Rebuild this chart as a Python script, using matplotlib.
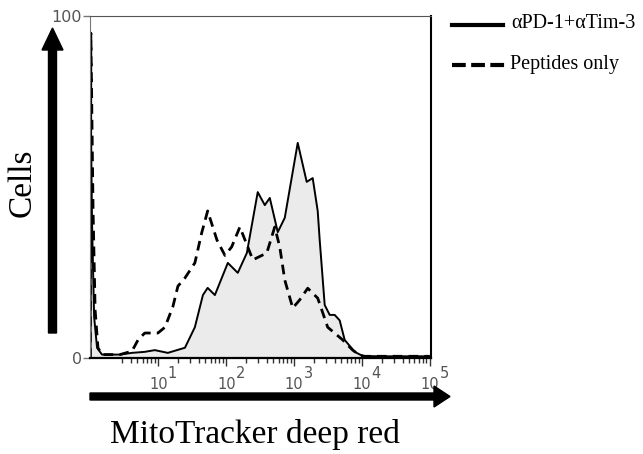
import matplotlib
matplotlib.use("Agg")
import matplotlib.pyplot as plt
from matplotlib.patches import FancyArrow
from matplotlib.lines import Line2D
from matplotlib.ticker import FixedLocator, NullFormatter
from matplotlib.transforms import blended_transform_factory, offset_copy

# MitoTracker deep red intensity (log axis) and % of max cells
treated_x = [1.0, 1.02, 1.03, 1.07, 1.15, 1.27, 1.5, 2.76, 4.15, 6.4, 9.0, 14, 25, 35, 46,
             54, 69, 107, 150, 204, 295, 375, 444, 582, 738, 1145, 1552, 1902, 2254,
             2411, 2857, 3383, 4008, 4747, 5623, 7890, 10350, 18400, 100000]
treated_y = [0, 0, 70, 40, 12, 3, 1, 1, 1.5, 1.8, 2.3, 1.5, 3, 9, 18.4,
             20.5, 18.4, 27.8, 24.9, 30.7, 48.5, 44.7, 46.8, 36.8, 41, 62.9, 51.5, 52.6, 43,
             34.5, 15.5, 12.6, 12.6, 11, 5.3, 1.8, 0.6, 0.5, 0.5]

peptide_x = [1.01, 1.03, 1.11, 1.19, 1.31, 1.5, 2.76, 4.15, 5.1, 6.4, 10, 12.7, 16.6, 19.7,
             25, 35, 44, 54, 74, 97, 122, 161, 250, 401, 525, 622, 738, 967, 1225, 1607,
             2254, 3162, 5250, 7380, 9340, 11000, 100000]
peptide_y = [0, 95, 43, 14, 3, 1, 1, 2, 5.3, 7.3, 7.3, 9, 15, 21,
             23.4, 27.8, 36.5, 43, 34.5, 30, 32.5, 38.3, 28.7, 30.7, 38.3, 32.5, 22.8, 14.6, 17, 20.4,
             17.5, 9, 5.3, 2.3, 0.9, 0.5, 0.5]

labels = ["\u03b1PD-1+\u03b1Tim-3", "Peptides only"]
decades = [10, 100, 1000, 10000, 100000]
exponents = ["1", "2", "3", "4", "5"]

fig = plt.figure(figsize=(6.43, 4.54), dpi=100)
ax = fig.add_axes([90 / 643, 96 / 454, 341 / 643, 342 / 454])

ax.fill_between(treated_x, treated_y, 0, color="#ebebeb", lw=0)
ax.plot(treated_x, treated_y, color="black", lw=1.4)
ax.plot(peptide_x, peptide_y, color="black", lw=2.0, dashes=(3.5, 2.2))

ax.set_xscale("log")
ax.set_xlim(1, 1.05e5)
ax.set_ylim(0, 100)

ax.xaxis.set_major_locator(FixedLocator(decades))
ax.xaxis.set_major_formatter(NullFormatter())
minors = [m for m in range(3, 10)]
for d in [10, 100, 1000, 10000]:
    minors += [m * d for m in range(2, 10)]
ax.xaxis.set_minor_locator(FixedLocator(minors))
ax.xaxis.set_minor_formatter(NullFormatter())
ax.tick_params(axis="x", which="major", length=6, width=1, color="#333")
ax.tick_params(axis="x", which="minor", length=3.5, width=1, color="#333")

# flow-cytometry style decade labels: "10" with a full-size exponent
trans = blended_transform_factory(ax.transData, ax.transAxes)
for d, e in zip(decades, exponents):
    ax.text(d, 0, "10", transform=offset_copy(trans, fig=fig, x=0.5, y=-34, units="dots"),
            ha="center", va="bottom", fontsize=10.5, color="#555", clip_on=False)
    ax.text(d, 0, e, transform=offset_copy(trans, fig=fig, x=10, y=-23, units="dots"),
            ha="left", va="bottom", fontsize=10.5, color="#555", clip_on=False)

ax.set_yticks([0, 100])
ax.set_yticklabels(["0", "100"])
ax.tick_params(axis="y", length=5, width=1, color="#777", labelsize=11.5, labelcolor="#555", pad=1)

ax.spines["left"].set_color("#777")
ax.spines["top"].set_color("#555")
ax.spines["right"].set_color("black")
ax.spines["right"].set_linewidth(1.5)
ax.spines["bottom"].set_color("black")
ax.spines["bottom"].set_linewidth(1.6)

# big axis arrows (inches, dpi 100)
fig.add_artist(FancyArrow(0.525, 1.21, 0, 3.05, width=0.08, head_width=0.21, head_length=0.22,
                          length_includes_head=True, color="black",
                          transform=fig.dpi_scale_trans))
fig.add_artist(FancyArrow(0.90, 0.575, 3.60, 0, width=0.07, head_width=0.21, head_length=0.16,
                          length_includes_head=True, color="black",
                          transform=fig.dpi_scale_trans))

fig.text(22 / 643, 1 - 183 / 454, "Cells", rotation=90, ha="center", va="center",
         family="Liberation Serif", fontsize=24)
fig.text(255 / 643, 1 - 435 / 454, "MitoTracker deep red", ha="center", va="center",
         family="Liberation Serif", fontsize=24)

# legend
fig.add_artist(Line2D([452 / 643, 503 / 643], [1 - 25 / 454, 1 - 25 / 454], color="black",
                      lw=3, transform=fig.transFigure))
fig.add_artist(Line2D([452 / 643, 505 / 643], [1 - 65 / 454, 1 - 65 / 454], color="black",
                      lw=3, dashes=(3.3, 1.3), transform=fig.transFigure))
fig.text(511 / 643, 1 - 23 / 454, labels[0], ha="left", va="center",
         family="Liberation Serif", fontsize=14.5)
fig.text(510 / 643, 1 - 64 / 454, labels[1], ha="left", va="center",
         family="Liberation Serif", fontsize=14.5)

fig.savefig("out.png", dpi=100)
